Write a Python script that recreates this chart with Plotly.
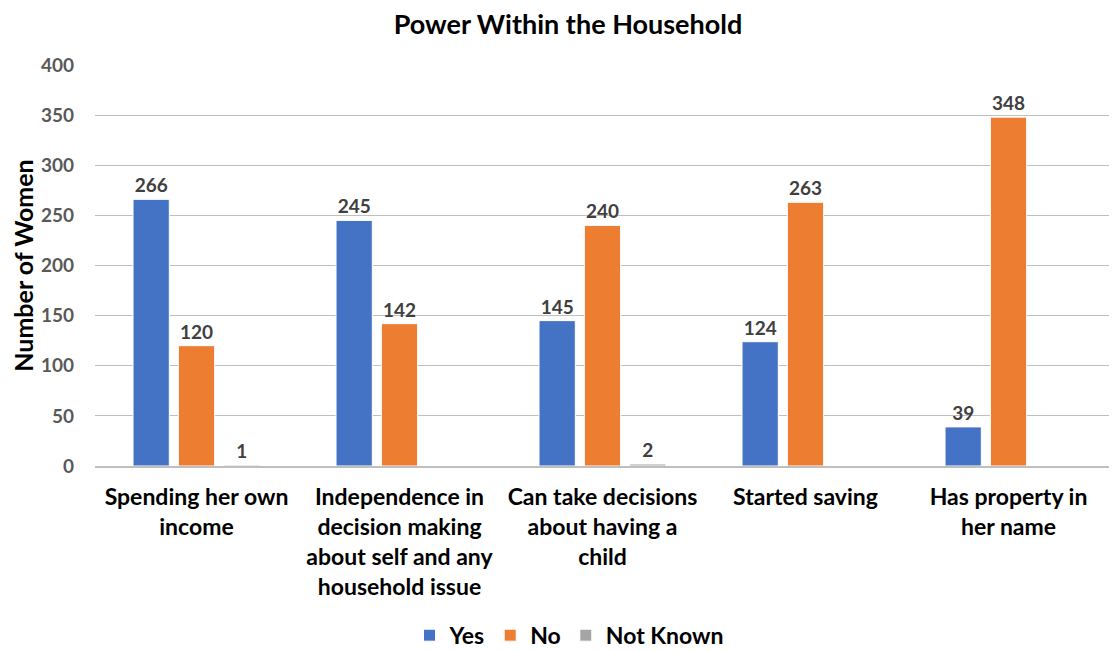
import plotly.graph_objects as go

categories = [
    'Spending her own<br>income',
    'Independence in<br>decision making<br>about self and any<br>household issue',
    'Can take decisions<br>about having a<br>child',
    'Started saving',
    'Has property in<br>her name',
]
yes = [266, 245, 145, 124, 39]
no = [120, 142, 240, 263, 348]
not_known = [1, None, 2, None, None]

FONT = 'Lato'
series = [
    ('Yes', yes, '#4472C4'),
    ('No', no, '#ED7D31'),
    ('Not Known', not_known, '#A5A5A5'),
]

fig = go.Figure()
for name, vals, color in series:
    fig.add_trace(go.Bar(
        x=categories,
        y=vals,
        name=name,
        marker=dict(color=color, line=dict(color='white', width=1)),
        text=[str(v) if v is not None else '' for v in vals],
        textposition='outside',
        cliponaxis=False,
        textfont=dict(family=FONT, size=19, color='#404040', weight='bold'),
    ))

# page body has an 8px margin, so the figure is sized/offset to compensate
fig.update_layout(
    width=1109, height=643,
    template='plotly_white',
    paper_bgcolor='white', plot_bgcolor='white',
    title=dict(text='<b>Power Within the Household</b>', x=0.505, xanchor='center',
               y=0.9736, yanchor='middle',
               font=dict(family=FONT, size=27, color='black')),
    barmode='group',
    bargap=0.33,
    bargroupgap=0.2,
    margin=dict(l=87, r=7, t=57, b=185, autoexpand=False),
    font=dict(family=FONT),
    xaxis=dict(
        showgrid=False, showline=True, linecolor='#BFBFBF', linewidth=1.5,
        ticks='', tickangle=0, ticklabelstandoff=10,
        tickfont=dict(family=FONT, size=23, color='black', weight='bold'),
    ),
    yaxis=dict(
        range=[0, 400], dtick=50, showgrid=True, gridcolor='#BFBFBF', gridwidth=1,
        zeroline=False, showline=False, ticks='', ticklabelstandoff=20,
        tickfont=dict(family=FONT, size=19, color='#595959', weight='bold'),
        title=dict(text='<b>Number of Women</b>', standoff=2,
                   font=dict(family=FONT, size=25, color='black')),
    ),
    legend=dict(orientation='h', x=0.467, xanchor='center', y=-0.422, yanchor='middle',
                font=dict(family=FONT, size=23, color='black', weight='bold'),
                itemwidth=30, traceorder='normal'),
    showlegend=True,
)

fig.write_html('out.html')
